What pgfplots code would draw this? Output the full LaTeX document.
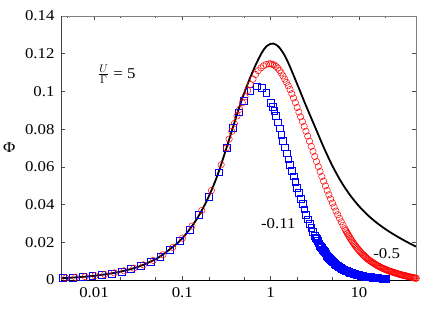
\documentclass[border=0pt]{standalone}
\usepackage{fontspec}
\setmainfont{Liberation Serif}[FakeStretch=1.12]
\usepackage{pgfplots}
\pgfplotsset{compat=1.18}
\begin{document}
\begin{tikzpicture}
\useasboundingbox (-61pt,-30pt) rectangle (381pt,280pt);
\begin{axis}[
  at={(0pt,0pt)}, anchor=south west,
  scale only axis, width=355pt, height=264pt,
  xmode=log,
  xmin=0.004227, xmax=44.3, ymin=0, ymax=0.14,
  xtick={0.01,0.1,1,10}, xticklabels={0.01,0.1,1,10},
  minor xtick={0.005,0.02,0.05,0.2,0.5,2,5,20},
  ytick={0,0.02,0.04,0.06,0.08,0.1,0.12,0.14},
  yticklabel style={/pgf/number format/fixed,/pgf/number format/precision=2,xshift=-3pt},
  xticklabel style={yshift=-4pt},
  /pgf/number format/assume math mode=true,
  tick label style={font=\fontsize{15}{18}\selectfont},
  tick align=inside, major tick length=4pt, minor tick length=2.5pt,
  tick style={black!70, line width=0.6pt},
  axis line style={black!50, line width=0.8pt},
  clip=false,
  ylabel={Φ},
  ylabel style={font=\fontsize{15}{18}\selectfont, rotate=-90, at={(axis description cs:-0.146,0.5)}, anchor=center},
]
% blue squares
\addplot[only marks, mark=square, mark size=3.4pt, blue, mark options={line width=0.5pt}] coordinates {
(0.004467,0.00099) (0.005754,0.00128) (0.007413,0.00165) (0.00955,0.00212) (0.0123,0.00273)
(0.01585,0.00352) (0.02042,0.00453) (0.0263,0.00584) (0.03388,0.00752) (0.04365,0.00969)
(0.05623,0.01248) (0.07244,0.01608) (0.09333,0.02072) (0.1202,0.02668) (0.1549,0.03439)
(0.1995,0.04429) (0.2570,0.0571) (0.3162,0.0700) (0.3715,0.0808) (0.4365,0.0890)
(0.5012,0.0950) (0.5888,0.1003) (0.6918,0.1027) (0.7943,0.1020) (0.8913,0.0992)
(1.0000,0.0940) (1.0471,0.0918) (1.0965,0.0896) (1.1482,0.0869) (1.2023,0.0837)
(1.2589,0.0805) (1.3183,0.0771) (1.3804,0.0737) (1.4454,0.0704) (1.5136,0.0672)
(1.5849,0.0640) (1.6596,0.0610) (1.7378,0.0580) (1.8197,0.0550) (1.9055,0.0520)
(1.9953,0.0490) (2.0893,0.0461) (2.1878,0.0432) (2.2909,0.0404) (2.3988,0.0375)
(2.5119,0.0347) (2.6303,0.0322) (2.7542,0.0297) (2.8840,0.0275) (3.0200,0.0255)
(3.1623,0.0235) (3.3113,0.0217) (3.4674,0.0199) (3.6308,0.0183) (3.8019,0.0169)
(3.9811,0.0155) (4.1687,0.0142) (4.3652,0.0129) (4.5709,0.0118) (4.7863,0.0108)
(5.0119,0.0098) (5.2481,0.0090) (5.4954,0.0082) (5.7544,0.0075) (6.0256,0.0068)
(6.3096,0.0062) (6.6069,0.0057) (6.9183,0.0052) (7.2444,0.0048) (7.5858,0.0044)
(7.9433,0.0040) (8.3176,0.0037) (8.7096,0.0034) (9.1201,0.0031) (9.5499,0.0028)
(10.000,0.0026) (10.471,0.0024) (10.965,0.0022) (11.482,0.0020) (12.023,0.0018)
(12.589,0.0017) (13.183,0.0016) (13.804,0.0015) (14.454,0.0013) (15.136,0.0012)
(15.849,0.0011) (16.596,0.0010) (17.378,0.0009) (18.197,0.0009) (19.055,0.0008)
(19.953,0.0007)
(3.2359,0.0226) (3.3884,0.0208) (3.5481,0.0191) (3.7154,0.0176) (3.8905,0.0162)
(4.0738,0.01485) (4.2658,0.01355) (4.4668,0.01235) (4.6774,0.0113) (4.8978,0.0103)
(5.1286,0.0094) (5.3703,0.0086) (5.6234,0.00785) (5.8884,0.00715) (6.1660,0.0065)
(6.4565,0.00595) (6.7608,0.00545) (7.0795,0.0050) (7.4131,0.0046) (7.7625,0.0042)
(8.1283,0.00385) (8.5114,0.00355) (8.9125,0.00325) (9.3325,0.00295) (9.7724,0.0027)
(10.233,0.0025) (10.715,0.0023) (11.220,0.0021) (11.749,0.0019) (12.303,0.00175)
(12.882,0.00165) (13.490,0.00155) (14.125,0.0014) (14.791,0.00125) (15.488,0.00115)
(16.218,0.00105) (16.982,0.00095) (17.783,0.0009) (18.621,0.00085) (19.498,0.00075)
};
% red circles
\addplot[only marks, mark=o, mark size=3.2pt, red, mark options={line width=0.5pt}] coordinates {
(0.004786,0.00106) (0.006166,0.00137) (0.007943,0.00176) (0.01023,0.00227) (0.01318,0.00293)
(0.01698,0.00377) (0.02188,0.00486) (0.02818,0.00626) (0.03631,0.00806) (0.04677,0.01038)
(0.06026,0.01338) (0.07762,0.01723) (0.1000,0.0222) (0.1288,0.0286) (0.1660,0.0369)
(0.2138,0.0475) (0.2754,0.0611) (0.3162,0.0700) (0.3388,0.0747) (0.3631,0.0788)
(0.3890,0.0830) (0.4169,0.0870) (0.4467,0.0905) (0.4786,0.0940) (0.5129,0.0972)
(0.5495,0.1005) (0.5888,0.1037) (0.6310,0.1065) (0.6761,0.1090) (0.7244,0.1110)
(0.7762,0.1125) (0.8318,0.1136) (0.8913,0.1143) (0.9550,0.1146)
(1.0000,0.1146) (1.0471,0.1144) (1.0965,0.1140) (1.1482,0.1133) (1.2023,0.1124)
(1.2589,0.1112) (1.3183,0.1098) (1.3804,0.1082) (1.4454,0.1065) (1.5136,0.1048)
(1.5849,0.1030) (1.6596,0.1010) (1.7378,0.0988) (1.8197,0.0965) (1.9055,0.0941)
(1.9953,0.0915) (2.0893,0.0890) (2.1878,0.0865) (2.2909,0.0840) (2.3988,0.0814)
(2.5119,0.0789) (2.6303,0.0763) (2.7542,0.0736) (2.8840,0.0709) (3.0200,0.0682)
(3.1623,0.0655) (3.3113,0.0628) (3.4674,0.0601) (3.6308,0.0575) (3.8019,0.0549)
(3.9811,0.0524) (4.1687,0.0499) (4.3652,0.0475) (4.5709,0.0452) (4.7863,0.0430)
(5.0119,0.0408) (5.2481,0.0387) (5.4954,0.0366) (5.7544,0.0346) (6.0256,0.0327)
(6.3096,0.0308) (6.6069,0.0290) (6.9183,0.0272) (7.2444,0.0255) (7.5858,0.0239)
(7.9433,0.0223) (8.3176,0.0208) (8.7096,0.0194) (9.1201,0.0181) (9.5499,0.0169)
(10.000,0.0158) (10.471,0.0147) (10.965,0.0137) (11.482,0.0128) (12.023,0.0119)
(12.589,0.0111) (13.183,0.0104) (13.804,0.0097) (14.454,0.0091) (15.136,0.0085)
(15.849,0.0079) (16.596,0.0074) (17.378,0.0069) (18.197,0.0064) (19.055,0.0060)
(19.953,0.0056) (20.893,0.0052) (21.878,0.0048) (22.909,0.0045) (23.988,0.0042)
(25.119,0.0039) (26.303,0.0036) (27.542,0.0033) (28.840,0.0030) (30.200,0.0028)
(31.623,0.0025) (33.113,0.0023) (34.674,0.0021) (36.308,0.0018) (38.019,0.0016)
(39.811,0.0014) (41.687,0.0012) (43.652,0.0010) (44.668,0.0009)
(7.0795,0.0263) (7.4131,0.0247) (7.7625,0.0231) (8.1283,0.02155) (8.5114,0.0201)
(8.9125,0.01875) (9.3325,0.0175) (9.7724,0.01635) (10.233,0.01525) (10.715,0.0142)
(11.220,0.01325) (11.749,0.01235) (12.303,0.0115) (12.882,0.01075) (13.490,0.01005)
(14.125,0.0094) (14.791,0.0088) (15.488,0.0082) (16.218,0.00765) (16.982,0.00715)
(17.783,0.00665) (18.621,0.0062) (19.498,0.0058) (20.417,0.0054) (21.380,0.0050)
(22.387,0.00465) (23.442,0.00435) (24.547,0.00405) (25.704,0.00375) (26.915,0.00345)
(28.184,0.00315) (29.512,0.0029) (30.903,0.00265) (32.359,0.0024) (33.884,0.0022)
(35.481,0.00195) (37.154,0.0017) (38.905,0.0015) (40.738,0.0013) (42.658,0.0011)
};
% black line
\addplot[black, line width=1.8pt, smooth, no marks] coordinates {
(0.004227,0.00094) (0.00708,0.00157) (0.01175,0.00261) (0.0195,0.00433) (0.03236,0.00718)
(0.0537,0.01192) (0.08913,0.01979) (0.1148,0.0255) (0.1479,0.0328) (0.1905,0.0423)
(0.2455,0.0545) (0.3162,0.0700) (0.3631,0.0790) (0.4266,0.0895) (0.5012,0.0990)
(0.5888,0.1075) (0.6918,0.1150) (0.7943,0.1205) (0.8913,0.1238) (1.0000,0.1252)
(1.0715,0.1254) (1.1482,0.1248) (1.2589,0.1232) (1.4454,0.1190) (1.6596,0.1130)
(1.9953,0.1040) (2.5119,0.0925) (3.1623,0.0815) (3.9811,0.0705) (5.0119,0.0605)
(6.3096,0.0520) (7.9433,0.0450) (10.000,0.0392) (12.589,0.0344) (15.849,0.0304)
(19.953,0.0270) (25.119,0.0240) (31.623,0.0213) (39.811,0.0188) (44.3,0.0177)
};
\draw[black, line width=0.8pt] (rel axis cs:0,0) -- (rel axis cs:1,0);
\draw[black!75, line width=0.8pt] (rel axis cs:0,0) -- (rel axis cs:0,1);
\node[font=\fontsize{15}{18}\selectfont] at (axis cs:0.0181,0.1092) {$\frac{U}{\Gamma}$ = 5};
\node[font=\fontsize{15}{18}\selectfont] at (axis cs:1.22,0.0297) {-0.11};
\node[font=\fontsize{15}{18}\selectfont] at (axis cs:20.6,0.0138) {-0.5};
\end{axis}
\end{tikzpicture}
\end{document}
